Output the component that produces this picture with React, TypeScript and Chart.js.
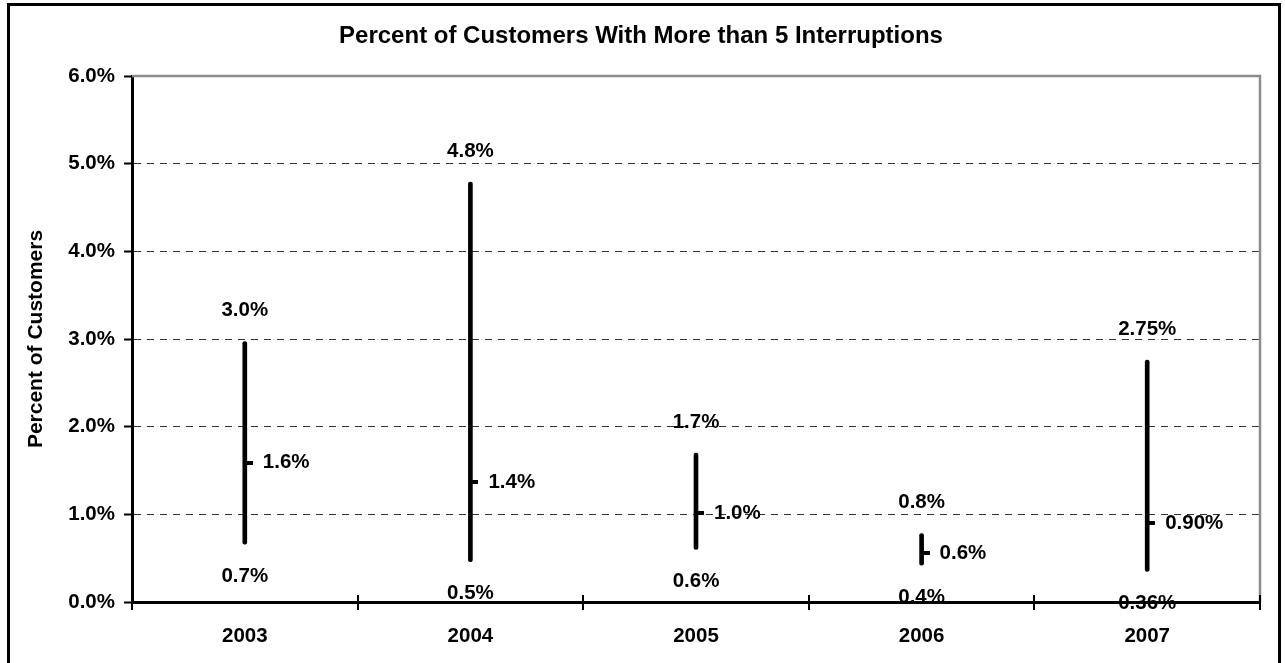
import React, { useEffect, useRef } from 'react';
import { Chart, registerables } from 'chart.js';

Chart.register(...registerables);

const FONT = "'Liberation Sans', Arial, sans-serif";

const years = ['2003', '2004', '2005', '2006', '2007'];
const highs = [2.97, 4.79, 1.7, 0.78, 2.76];
const lows = [0.66, 0.46, 0.6, 0.42, 0.35];
const closes = [1.59, 1.37, 1.01, 0.56, 0.9];
const highLabels = ['3.0%', '4.8%', '1.7%', '0.8%', '2.75%'];
const lowLabels = ['0.7%', '0.5%', '0.6%', '0.4%', '0.36%'];
const closeLabels = ['1.6%', '1.4%', '1.0%', '0.6%', '0.90%'];
const yTickLabels = ['0.0%', '1.0%', '2.0%', '3.0%', '4.0%', '5.0%', '6.0%'];
const titleText = 'Percent of Customers With More than 5 Interruptions';
const yAxisTitle = 'Percent of Customers';

const labelPlugin = {
  id: 'hlcLabels',
  afterDatasetsDraw(chart: any) {
    const { ctx, scales } = chart;
    const x = scales.x;
    const y = scales.y;
    ctx.save();
    ctx.font = `bold 20.5px ${FONT}`;
    ctx.fillStyle = '#000';
    ctx.textBaseline = 'middle';
    years.forEach((_, i) => {
      const px = x.getPixelForValue(i);
      ctx.textAlign = 'center';
      ctx.fillText(highLabels[i], px, y.getPixelForValue(highs[i]) - 31);
      ctx.fillText(lowLabels[i], px, y.getPixelForValue(lows[i]) + 32);
      ctx.textAlign = 'left';
      ctx.fillText(closeLabels[i], px + 18, y.getPixelForValue(closes[i]));
    });
    ctx.restore();
  },
};

const framePlugin = {
  id: 'plotFrame',
  beforeDatasetsDraw(chart: any) {
    const { ctx, chartArea } = chart;
    ctx.save();
    ctx.strokeStyle = '#8c8c8c';
    ctx.lineWidth = 2.5;
    ctx.beginPath();
    ctx.moveTo(chartArea.left, chartArea.top);
    ctx.lineTo(chartArea.right, chartArea.top);
    ctx.lineTo(chartArea.right, chartArea.bottom);
    ctx.stroke();
    ctx.restore();
  },
  afterDraw(chart: any) {
    const { ctx, chartArea, scales } = chart;
    const x = scales.x;
    ctx.save();
    ctx.strokeStyle = '#000';
    ctx.lineWidth = 2;
    for (let i = 0; i <= years.length; i++) {
      const px = Math.round(x.getPixelForValue(i - 0.5));
      ctx.beginPath();
      ctx.moveTo(px, chartArea.bottom - 7);
      ctx.lineTo(px, chartArea.bottom + 8);
      ctx.stroke();
    }
    ctx.restore();
  },
};

export default function App() {
  const ref = useRef<HTMLCanvasElement | null>(null);

  useEffect(() => {
    const canvas = ref.current;
    if (!canvas) return;

    const tick = document.createElement('canvas');
    tick.width = 16;
    tick.height = 4;
    const tctx = tick.getContext('2d');
    if (tctx) {
      tctx.fillStyle = '#000';
      tctx.fillRect(8, 0, 8, 4);
    }

    const chart = new Chart(canvas, {
      type: 'bar',
      data: {
        labels: years,
        datasets: [
          {
            type: 'line',
            label: 'Average',
            data: closes,
            showLine: false,
            pointStyle: tick as any,
            pointRadius: 4,
            pointHoverRadius: 4,
            order: 0,
          } as any,
          {
            type: 'bar',
            label: 'Range',
            data: lows.map((l, i) => [l, highs[i]]),
            backgroundColor: '#000',
            borderWidth: 0,
            barThickness: 4,
            borderRadius: 2,
            borderSkipped: false,
            order: 1,
          } as any,
        ],
      },
      options: {
        animation: false,
        responsive: false,
        maintainAspectRatio: false,
        devicePixelRatio: 1,
        events: [],
        layout: { padding: { left: 0, right: 4, top: 0, bottom: 0 } },
        plugins: {
          legend: { display: false },
          tooltip: { enabled: false },
          title: {
            display: true,
            text: titleText,
            color: '#000',
            font: { family: FONT, size: 24, weight: 'bold', lineHeight: 1.2 },
            padding: { top: 21.6, bottom: 25.6 },
          },
        },
        scales: {
          x: {
            type: 'category',
            offset: true,
            grid: { display: false, drawTicks: false, offset: true },
            border: { display: true, color: '#000', width: 3 },
            ticks: {
              color: '#000',
              padding: 22,
              font: { family: FONT, size: 20.5, weight: 'bold' },
              maxRotation: 0,
            },
            afterFit: (s: any) => {
              s.height = 61;
            },
          },
          y: {
            type: 'linear',
            min: 0,
            max: 6,
            ticks: {
              stepSize: 1,
              color: '#000',
              padding: 9,
              font: { family: FONT, size: 20.5, weight: 'bold' },
              callback: (_v: any, idx: number) => yTickLabels[idx],
            },
            grid: {
              color: (c: any) =>
                c.tick && (c.tick.value === 0 || c.tick.value === 6) ? 'rgba(0,0,0,0)' : '#333',
              lineWidth: 1,
              drawTicks: true,
              tickLength: 8,
              tickColor: '#000',
              tickWidth: 2,
              tickBorderDash: [],
            },
            border: { display: true, color: '#000', width: 3, dash: [7, 6] },
            title: {
              display: true,
              text: yAxisTitle,
              color: '#000',
              font: { family: FONT, size: 21, weight: 'bold', lineHeight: 1.2 },
              padding: { top: 2.4, bottom: 0 },
            },
            afterFit: (s: any) => {
              s.width = 111;
            },
          },
        },
      },
      plugins: [framePlugin, labelPlugin],
    } as any);

    return () => {
      chart.destroy();
    };
  }, []);

  return (
    <div>
      <canvas
        ref={ref}
        width={1244}
        height={663}
        style={{ position: 'fixed', left: 21, top: 0, width: 1244, height: 663 }}
      />
      <div
        style={{
          position: 'fixed',
          left: 7,
          top: 3,
          width: 1274,
          height: 700,
          border: '3px solid #000',
          boxSizing: 'border-box',
          pointerEvents: 'none',
        }}
      />
    </div>
  );
}
